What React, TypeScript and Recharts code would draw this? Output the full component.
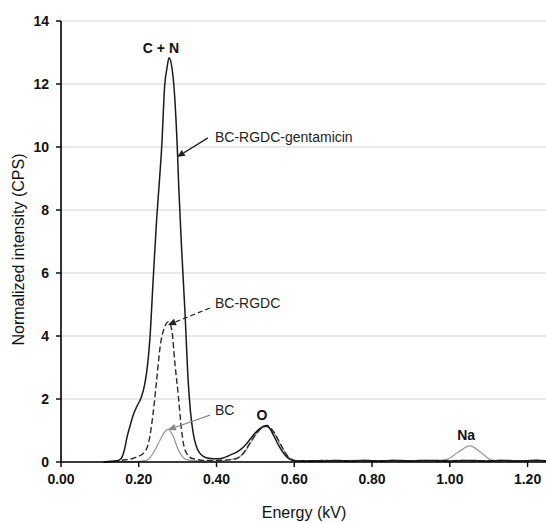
import React from 'react'
import { LineChart, Line, XAxis, YAxis, CartesianGrid, ReferenceLine, ReferenceDot } from 'recharts'

const xTicks = [0, 0.2, 0.4, 0.6, 0.8, 1.0, 1.2]
const yTicks = [0, 2, 4, 6, 8, 10, 12, 14]

// BC-RGDC-gentamicin (solid black)
const gentEnergy = [
  0.11, 0.13, 0.145, 0.155, 0.163, 0.17, 0.177, 0.186, 0.195, 0.207, 0.215, 0.22, 0.229, 0.237, 0.246,
  0.253, 0.259, 0.267, 0.2725, 0.278, 0.2855, 0.29, 0.299, 0.303, 0.31, 0.319, 0.327, 0.333, 0.34, 0.348,
  0.357, 0.37, 0.385, 0.4, 0.415, 0.435, 0.46, 0.478, 0.495, 0.512, 0.525, 0.533, 0.542, 0.559, 0.576,
  0.597, 0.625, 0.65, 0.675, 0.7, 0.725, 0.75, 0.775, 0.8, 0.825, 0.85, 0.875, 0.9, 0.925, 0.95, 0.975,
  1.0, 1.025, 1.05, 1.075, 1.1, 1.125, 1.15, 1.175, 1.2, 1.225, 1.25,
]
const gentIntensity = [
  0.0, 0.02, 0.04, 0.12, 0.38, 0.8, 1.12, 1.5, 1.76, 2.07, 2.45, 2.82, 3.98, 5.78, 7.7,
  8.9, 10.0, 12.0, 12.5, 12.83, 12.5, 12.0, 10.0, 8.7, 6.83, 4.72, 2.6, 1.6, 0.92, 0.5,
  0.28, 0.15, 0.11, 0.1, 0.12, 0.22, 0.38, 0.59, 0.86, 1.07, 1.14, 1.12, 0.96, 0.54, 0.22,
  0.05, 0.03, 0.04, 0.03, 0.05, 0.04, 0.03, 0.05, 0.04, 0.03, 0.04, 0.05, 0.03, 0.04, 0.05, 0.04,
  0.03, 0.04, 0.05, 0.04, 0.03, 0.04, 0.05, 0.03, 0.04, 0.05, 0.04,
]

// BC-RGDC (dashed)
const rgdcEnergy = [
  0.11, 0.13, 0.152, 0.186, 0.212, 0.225, 0.237, 0.246, 0.255, 0.267, 0.276, 0.285, 0.293, 0.302, 0.31,
  0.319, 0.336, 0.375, 0.42, 0.45, 0.469, 0.486, 0.503, 0.52, 0.53, 0.547, 0.568, 0.59, 0.61, 0.625,
  0.65, 0.675, 0.7, 0.725, 0.75, 0.775, 0.8, 0.825, 0.85, 0.875, 0.9, 0.925, 0.95, 0.975, 1.0, 1.025,
  1.05, 1.075, 1.1, 1.125, 1.15, 1.175, 1.2, 1.225, 1.25,
]
const rgdcIntensity = [
  0.0, 0.02, 0.05, 0.12, 0.28, 0.6, 1.55, 2.6, 3.66, 4.3, 4.45, 4.19, 3.13, 2.07, 1.02,
  0.38, 0.12, 0.05, 0.06, 0.1, 0.28, 0.6, 0.91, 1.12, 1.16, 0.96, 0.49, 0.1, 0.03, 0.04,
  0.03, 0.05, 0.04, 0.03, 0.04, 0.05, 0.03, 0.04, 0.05, 0.04, 0.03, 0.05, 0.04, 0.03, 0.04, 0.05,
  0.04, 0.03, 0.04, 0.05, 0.04, 0.03, 0.04, 0.05, 0.03,
]

// BC (grey)
const bcEnergy = [
  0.11, 0.2, 0.22, 0.237, 0.255, 0.267, 0.276, 0.289, 0.302, 0.319, 0.34, 0.4, 0.44, 0.469, 0.486,
  0.503, 0.52, 0.53, 0.547, 0.568, 0.59, 0.61, 0.625, 0.65, 0.675, 0.7, 0.725, 0.75, 0.775, 0.8,
  0.825, 0.85, 0.875, 0.9, 0.925, 0.95, 0.975, 0.992, 1.02, 1.052, 1.08, 1.11, 1.15, 1.175, 1.2, 1.225, 1.25,
]
const bcIntensity = [
  0.0, 0.02, 0.05, 0.28, 0.7, 0.96, 1.04, 0.8, 0.38, 0.1, 0.04, 0.03, 0.08, 0.26, 0.58,
  0.9, 1.1, 1.12, 0.94, 0.47, 0.1, 0.03, 0.04, 0.03, 0.05, 0.04, 0.03, 0.05, 0.04, 0.03,
  0.04, 0.05, 0.03, 0.04, 0.05, 0.04, 0.05, 0.08, 0.3, 0.51, 0.3, 0.05, 0.04, 0.03, 0.04, 0.05, 0.04,
]

const peakLabels = [
  { text: 'C + N', e: 0.257, v: 13.14 },
  { text: 'O', e: 0.517, v: 1.49 },
  { text: 'Na', e: 1.042, v: 0.86 },
]

const seriesLabels = [
  { text: 'BC-RGDC-gentamicin', e: 0.396, v: 10.32, from: [0.378, 10.29], to: [0.298, 9.68], color: '#222', dash: '' },
  { text: 'BC-RGDC', e: 0.396, v: 5.05, from: [0.383, 4.89], to: [0.275, 4.35], color: '#222', dash: '5 3' },
  { text: 'BC', e: 0.396, v: 1.65, from: [0.383, 1.49], to: [0.275, 1.02], color: '#888', dash: '' },
]

const toPoints = (e: number[], v: number[]) => e.map((x, i) => ({ e: x, v: v[i] }))

const FONT = '"Liberation Sans", Arial, sans-serif'

function Arrow(props: any) {
  const { x1, y1, x2, y2, stroke, strokeDasharray } = props
  const ang = Math.atan2(y2 - y1, x2 - x1)
  const len = 8
  const w = 3.5
  const bx = x2 - len * Math.cos(ang)
  const by = y2 - len * Math.sin(ang)
  const px = -Math.sin(ang) * w
  const py = Math.cos(ang) * w
  return (
    <g>
      <line x1={x1} y1={y1} x2={bx} y2={by} stroke={stroke} strokeWidth={1.2} strokeDasharray={strokeDasharray} />
      <polygon points={`${x2},${y2} ${bx + px},${by + py} ${bx - px},${by - py}`} fill={stroke} />
    </g>
  )
}

export default function App() {
  return (
    <div style={{ position: 'absolute', left: 0, top: 0, background: '#fff' }}>
      <LineChart width={546} height={523} margin={{ top: 21, right: -1, bottom: 31, left: 0 }}>
        <CartesianGrid vertical={false} stroke="#d4d4d4" strokeWidth={1.2} />
        <XAxis
          type="number"
          dataKey="e"
          domain={[0, 1.25]}
          ticks={xTicks}
          allowDataOverflow
          height={30}
          tickFormatter={(v: number) => v.toFixed(2)}
          tick={{ fill: '#111', fontSize: 14, fontWeight: 'bold', fontFamily: FONT }}
          axisLine={{ stroke: '#000', strokeWidth: 1.6 }}
          tickLine={{ stroke: '#000', strokeWidth: 1.4 }}
          tickSize={5}
          tickMargin={7}
          label={(p: any) => {
            const vb = p.viewBox
            return (
              <text x={vb.x + vb.width / 2} y={vb.y + 56} textAnchor="middle" fontSize={16} fontFamily={FONT} fill="#111">
                Energy (kV)
              </text>
            )
          }}
        />
        <YAxis
          type="number"
          domain={[0, 14]}
          ticks={yTicks}
          width={61}
          tick={{ fill: '#111', fontSize: 14, fontWeight: 'bold', fontFamily: FONT }}
          axisLine={{ stroke: '#000', strokeWidth: 1.6 }}
          tickLine={{ stroke: '#000', strokeWidth: 1.4 }}
          tickSize={5}
          tickMargin={7}
          label={(p: any) => {
            const vb = p.viewBox
            const cx = vb.x + 18
            const cy = vb.y + vb.height / 2 + 8
            return (
              <text
                x={cx}
                y={cy}
                transform={`rotate(-90 ${cx} ${cy})`}
                textAnchor="middle"
                dominantBaseline="central"
                fontSize={16}
                fontFamily={FONT}
                fill="#111"
              >
                Normalized intensity (CPS)
              </text>
            )
          }}
        />
        <Line
          data={toPoints(bcEnergy, bcIntensity)}
          dataKey="v"
          type="monotone"
          stroke="#9a9a9a"
          strokeWidth={1.3}
          dot={false}
          isAnimationActive={false}
        />
        <Line
          data={toPoints(rgdcEnergy, rgdcIntensity)}
          dataKey="v"
          type="monotone"
          stroke="#2a2a2a"
          strokeWidth={1.4}
          strokeDasharray="6 3"
          dot={false}
          isAnimationActive={false}
        />
        <Line
          data={toPoints(gentEnergy, gentIntensity)}
          dataKey="v"
          type="monotone"
          stroke="#1a1a1a"
          strokeWidth={1.5}
          dot={false}
          isAnimationActive={false}
        />
        {seriesLabels.map(s => (
          <ReferenceLine
            key={'arrow-' + s.text}
            segment={[{ x: s.from[0], y: s.from[1] }, { x: s.to[0], y: s.to[1] }]}
            stroke={s.color}
            strokeDasharray={s.dash}
            ifOverflow="visible"
            shape={(p: any) => <Arrow {...p} stroke={s.color} strokeDasharray={s.dash} />}
          />
        ))}
        {seriesLabels.map(s => (
          <ReferenceDot
            key={'label-' + s.text}
            x={s.e}
            y={s.v}
            r={0}
            ifOverflow="visible"
            shape={(p: any) => (
              <text x={p.cx} y={p.cy} dominantBaseline="central" fontSize={14} fontFamily={FONT} fill="#222">
                {s.text}
              </text>
            )}
          />
        ))}
        {peakLabels.map(s => (
          <ReferenceDot
            key={'peak-' + s.text}
            x={s.e}
            y={s.v}
            r={0}
            ifOverflow="visible"
            shape={(p: any) => (
              <text
                x={p.cx}
                y={p.cy}
                textAnchor="middle"
                dominantBaseline="central"
                fontSize={14}
                fontWeight="bold"
                fontFamily={FONT}
                fill="#111"
              >
                {s.text}
              </text>
            )}
          />
        ))}
      </LineChart>
    </div>
  )
}
